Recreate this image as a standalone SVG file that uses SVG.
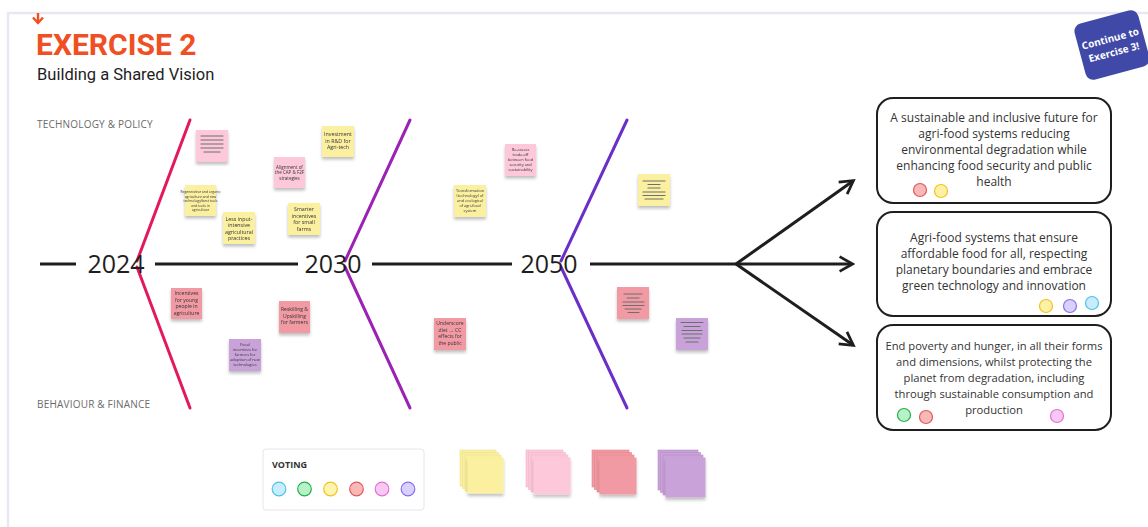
<svg xmlns="http://www.w3.org/2000/svg" width="1148" height="527" viewBox="0 0 1148 527">
<style>
.frame{fill:none;stroke:#ece6f0;stroke-width:2.5}
.title{font-family:Roboto,"Liberation Sans",sans-serif;font-weight:700;font-size:30px;fill:#f04e23}
.sub{font-family:Roboto,"Liberation Sans",sans-serif;font-size:16.5px;fill:#1e1e1e}
.cat{font-family:"Open Sans","Liberation Sans",sans-serif;font-size:10px;fill:#6b6b6b;letter-spacing:0.2px}
.year{font-family:"Open Sans","Liberation Sans",sans-serif;font-size:25px;fill:#1e1e1e;text-anchor:middle}
.spine{stroke:#1e1e1e;stroke-width:3;fill:none}
.bone{stroke-width:3;fill:none;stroke-linecap:round}
.arr{stroke:#1e1e1e;stroke-width:3;fill:none;marker-end:url(#chev)}
.box{fill:#fff;stroke:#1e1e1e;stroke-width:2}
.btxt{font-family:"Open Sans","Liberation Sans",sans-serif;font-size:12px;fill:#333;text-anchor:middle}
.btxt.sm{font-size:11.2px}
.st{font-family:"Open Sans","Liberation Sans",sans-serif;fill:#333;text-anchor:middle}
.yel{fill:#fbf0a0}
.pnk{fill:#fcc8da}
.red{fill:#f19aa3}
.pur{fill:#c8a2d8}
.ln{stroke:#6e6e6e;stroke-width:1.2;stroke-linecap:round}
.vt{stroke-width:1.2}
</style>
<defs>
<filter id="sh" x="-20%" y="-20%" width="140%" height="150%">
<feDropShadow dx="0" dy="2.5" stdDeviation="1.5" flood-color="#000" flood-opacity="0.25"/>
</filter>
<marker id="chev" viewBox="0 0 16 16" refX="13" refY="8" markerWidth="18" markerHeight="18" markerUnits="userSpaceOnUse" orient="auto">
<path d="M2,1.5 L13.5,8 L2,14.5" fill="none" stroke="#1e1e1e" stroke-width="2.4"/>
</marker>
</defs>
<rect width="1148" height="527" fill="#fff"/>
<path class="frame" d="M8,527 V13 H1148"/>

<g id="header">
<path d="M38,13 V23 M33,17.5 L38,23 L43,17.5" stroke="#f04e23" stroke-width="2.4" fill="none"/>
<text class="title" x="36" y="55">EXERCISE 2</text>
<text class="sub" x="37" y="80">Building a Shared Vision</text>
</g>

<g id="continue" transform="translate(1112,45) rotate(-15)">
<rect x="-33" y="-29" width="66" height="58" rx="8" fill="#4049a8"/>
<text x="0" y="-3" font-family="'Open Sans','Liberation Sans',sans-serif" font-weight="700" font-size="10" fill="#fff" text-anchor="middle">Continue to</text>
<text x="0" y="11" font-family="'Open Sans','Liberation Sans',sans-serif" font-weight="700" font-size="10" fill="#fff" text-anchor="middle">Exercise 3!</text>
</g>

<g id="labels">
<text class="cat" x="37" y="128">TECHNOLOGY &amp; POLICY</text>
<text class="cat" x="37" y="408">BEHAVIOUR &amp; FINANCE</text>
</g>

<g id="connectors">
<line class="spine" x1="40" y1="264" x2="76" y2="264"/>
<line class="spine" x1="155" y1="264" x2="298" y2="264"/>
<line class="spine" x1="372" y1="264" x2="512" y2="264"/>
<line class="spine" x1="590" y1="264" x2="736" y2="264"/>
<line class="bone" stroke="#e3195f" x1="190" y1="120" x2="137" y2="261"/>
<line class="bone" stroke="#e3195f" x1="137" y1="267" x2="190" y2="408"/>
<line class="bone" stroke="#9c21b5" x1="410" y1="120" x2="345" y2="261"/>
<line class="bone" stroke="#9c21b5" x1="345" y1="267" x2="410" y2="408"/>
<line class="bone" stroke="#6c2ec8" x1="627" y1="120" x2="561" y2="261"/>
<line class="bone" stroke="#6c2ec8" x1="561" y1="267" x2="627" y2="408"/>
<line class="arr" x1="736" y1="264" x2="853" y2="181"/>
<line class="arr" x1="736" y1="264" x2="852" y2="264"/>
<line class="arr" x1="736" y1="264" x2="853" y2="345"/>
</g>

<g id="years">
<text class="year" x="116" y="273">2024</text>
<text class="year" x="333" y="273">2030</text>
<text class="year" x="549" y="273">2050</text>
</g>

<g id="s1" filter="url(#sh)">
<rect class="pnk" x="196" y="130" width="32" height="32"/>
<path class="ln" d="M201,136 H223 M201,140 H223 M201,144 H223 M201,148 H223 M204,152 H220"/>
</g>
<g id="s2" filter="url(#sh)">
<rect class="yel" x="185" y="185" width="31" height="31"/>
<text class="st" font-size="3.4"><tspan x="200.5" y="193">Regenerative and organic</tspan><tspan x="200.5" y="197.5">agriculture and new</tspan><tspan x="200.5" y="202">technology/best tools</tspan><tspan x="200.5" y="206.5">and tools in</tspan><tspan x="200.5" y="211">agriculture</tspan></text>
</g>
<g id="s3" filter="url(#sh)">
<rect class="yel" x="223" y="212" width="32" height="32"/>
<text class="st" font-size="5.3"><tspan x="239" y="220.5">Less input-</tspan><tspan x="239" y="227">intensive</tspan><tspan x="239" y="233.5">agricultural</tspan><tspan x="239" y="240">practices</tspan></text>
</g>
<g id="s4" filter="url(#sh)">
<rect class="pnk" x="274" y="157" width="31" height="31"/>
<text class="st" font-size="4.5"><tspan x="289.5" y="168.5">Alignment of</tspan><tspan x="289.5" y="174">the CAP &amp; F2F</tspan><tspan x="289.5" y="179.5">strategies</tspan></text>
</g>
<g id="s5" filter="url(#sh)">
<rect class="yel" x="322" y="126" width="32" height="31"/>
<text class="st" font-size="5.3"><tspan x="338" y="136">Investment</tspan><tspan x="338" y="142.5">in R&amp;D for</tspan><tspan x="338" y="149">Agri-tech</tspan></text>
</g>
<g id="s6" filter="url(#sh)">
<rect class="yel" x="288" y="203" width="32" height="32"/>
<text class="st" font-size="5.3"><tspan x="304" y="211">Smarter</tspan><tspan x="304" y="217.5">incentives</tspan><tspan x="304" y="224">for small</tspan><tspan x="304" y="230.5">farms</tspan></text>
</g>
<g id="s7" filter="url(#sh)">
<rect class="red" x="171" y="288" width="31" height="31"/>
<text class="st" font-size="5.1"><tspan x="186.5" y="295">Incentives</tspan><tspan x="186.5" y="301.5">for young</tspan><tspan x="186.5" y="308">people in</tspan><tspan x="186.5" y="314.5">agriculture</tspan></text>
</g>
<g id="s8" filter="url(#sh)">
<rect class="red" x="279" y="301" width="31" height="32"/>
<text class="st" font-size="5.1"><tspan x="294.5" y="311">Reskilling &amp;</tspan><tspan x="294.5" y="317.5">Upskilling</tspan><tspan x="294.5" y="324">for farmers</tspan></text>
</g>
<g id="s9" filter="url(#sh)">
<rect class="pur" x="229" y="339" width="32" height="32"/>
<text class="st" font-size="3.9"><tspan x="245" y="346">Fiscal</tspan><tspan x="245" y="351">incentives for</tspan><tspan x="245" y="356">farmers for</tspan><tspan x="245" y="361">adoption of new</tspan><tspan x="245" y="366">technologies</tspan></text>
</g>
<g id="s10" filter="url(#sh)">
<rect class="yel" x="454" y="185" width="32" height="32"/>
<text class="st" font-size="3.9"><tspan x="470" y="192">Transformation</tspan><tspan x="470" y="197">(technology) of</tspan><tspan x="470" y="202">and ecological</tspan><tspan x="470" y="207">of agri-food</tspan><tspan x="470" y="212">system</tspan></text>
</g>
<g id="s11" filter="url(#sh)">
<rect class="pnk" x="505" y="144" width="31" height="32"/>
<text class="st" font-size="3.9"><tspan x="520.5" y="151">Re-assess</tspan><tspan x="520.5" y="156">trade-off</tspan><tspan x="520.5" y="161">between food</tspan><tspan x="520.5" y="166">security and</tspan><tspan x="520.5" y="171">sustainability</tspan></text>
</g>
<g id="s12" filter="url(#sh)">
<rect class="red" x="434" y="318" width="32" height="32"/>
<text class="st" font-size="5"><tspan x="450" y="325">Underscore</tspan><tspan x="450" y="331.5">diet → CC</tspan><tspan x="450" y="338">effects for</tspan><tspan x="450" y="344.5">the public</tspan></text>
</g>
<g id="s13" filter="url(#sh)">
<rect class="red" x="617" y="287" width="32" height="32"/>
<path class="ln" d="M624,294 H642 M627,298 H639 M623,302 H644 M623,305.5 H644 M625,309 H641 M628,312.5 H639"/>
</g>
<g id="s14" filter="url(#sh)">
<rect class="pur" x="676" y="318" width="32" height="32"/>
<path class="ln" d="M681,322.5 H703 M684,326.5 H700 M682,330.5 H702 M682,334 H702 M684,338 H700 M686,342 H698"/>
</g>
<g id="s15" filter="url(#sh)">
<rect class="yel" x="638" y="174" width="32" height="32"/>
<path class="ln" d="M643,181 H665 M648,184.5 H660 M648,188 H660 M643,192 H665 M643,195.5 H665 M645,199 H663"/>
</g>

<g id="box1">
<rect class="box" x="877" y="98" width="234" height="105" rx="16"/>
<text class="btxt"><tspan x="994" y="122">A sustainable and inclusive future for</tspan><tspan x="994" y="138">agri-food systems reducing</tspan><tspan x="994" y="154">environmental degradation while</tspan><tspan x="994" y="170">enhancing food security and public</tspan><tspan x="994" y="186">health</tspan></text>
<circle class="vt" cx="920" cy="190" r="6.5" fill="#f9b8b8" stroke="#e05a5a"/>
<circle class="vt" cx="941" cy="191" r="6.5" fill="#fff0a8" stroke="#f0c419"/>
</g>
<g id="box2">
<rect class="box" x="877" y="212" width="234" height="104" rx="16"/>
<text class="btxt"><tspan x="994" y="242">Agri-food systems that ensure</tspan><tspan x="994" y="258">affordable food for all, respecting</tspan><tspan x="994" y="274">planetary boundaries and embrace</tspan><tspan x="994" y="290">green technology and innovation</tspan></text>
<circle class="vt" cx="1046" cy="306" r="6.5" fill="#fff0a8" stroke="#f0c419"/>
<circle class="vt" cx="1070" cy="306" r="6.5" fill="#d8d0ff" stroke="#8a70e8"/>
<circle class="vt" cx="1092" cy="303" r="6.5" fill="#c8ecfb" stroke="#4dc3ea"/>
</g>
<g id="box3">
<rect class="box" x="877" y="325" width="234" height="105" rx="16"/>
<text class="btxt sm"><tspan x="994" y="350">End poverty and hunger, in all their forms</tspan><tspan x="994" y="366">and dimensions, whilst protecting the</tspan><tspan x="994" y="382">planet from degradation, including</tspan><tspan x="994" y="398">through sustainable consumption and</tspan><tspan x="994" y="414">production</tspan></text>
<circle class="vt" cx="904" cy="415" r="6.5" fill="#b8f0c8" stroke="#22b14c"/>
<circle class="vt" cx="926" cy="417" r="6.5" fill="#f9b8b8" stroke="#e05a5a"/>
<circle class="vt" cx="1057" cy="416" r="6.5" fill="#f8c8f0" stroke="#e070d8"/>
</g>

<g id="voting">
<rect x="263" y="449" width="161" height="61" rx="3" fill="#fff" stroke="#e6e6ea" stroke-width="1"/>
<text x="272" y="468" font-family="'Open Sans','Liberation Sans',sans-serif" font-weight="700" font-size="9" fill="#333">VOTING</text>
<circle class="vt" cx="279" cy="489" r="6.8" fill="#c8ecfb" stroke="#4dc3ea"/>
<circle class="vt" cx="304.5" cy="489" r="6.8" fill="#b8f0c8" stroke="#22b14c"/>
<circle class="vt" cx="330.5" cy="489" r="6.8" fill="#fff3b0" stroke="#f0c419"/>
<circle class="vt" cx="356.5" cy="489" r="6.8" fill="#f9b8b8" stroke="#e05a5a"/>
<circle class="vt" cx="382" cy="489" r="6.8" fill="#f8c8f0" stroke="#e070d8"/>
<circle class="vt" cx="408" cy="489" r="6.8" fill="#d8d0ff" stroke="#8a70e8"/>
</g>

<g id="stack-yellow">
<rect class="yel" x="460" y="450" width="36" height="36" stroke="#ece08a" stroke-width="0.6"/>
<rect class="yel" x="462.5" y="452.5" width="36" height="36" stroke="#ece08a" stroke-width="0.6"/>
<rect class="yel" x="465" y="455" width="36" height="36" stroke="#ece08a" stroke-width="0.6"/>
<rect class="yel" x="467.5" y="457.5" width="36" height="36" filter="url(#sh)"/>
</g>
<g id="stack-pink">
<rect class="pnk" x="526" y="450" width="37" height="37" stroke="#f2b4ca" stroke-width="0.6"/>
<rect class="pnk" x="528.5" y="452.5" width="37" height="37" stroke="#f2b4ca" stroke-width="0.6"/>
<rect class="pnk" x="531" y="455" width="37" height="37" stroke="#f2b4ca" stroke-width="0.6"/>
<rect class="pnk" x="533.5" y="457.5" width="37" height="37" filter="url(#sh)"/>
</g>
<g id="stack-red">
<rect class="red" x="592" y="450" width="37" height="37" stroke="#e4848e" stroke-width="0.6"/>
<rect class="red" x="594.5" y="452.5" width="37" height="37" stroke="#e4848e" stroke-width="0.6"/>
<rect class="red" x="597" y="455" width="37" height="37" stroke="#e4848e" stroke-width="0.6"/>
<rect class="red" x="599.5" y="457.5" width="37" height="37" filter="url(#sh)"/>
</g>
<g id="stack-purple">
<rect class="pur" x="658" y="450" width="40" height="40" stroke="#b48ec6" stroke-width="0.6"/>
<rect class="pur" x="660.5" y="452.5" width="40" height="40" stroke="#b48ec6" stroke-width="0.6"/>
<rect class="pur" x="663" y="455" width="40" height="40" stroke="#b48ec6" stroke-width="0.6"/>
<rect class="pur" x="665.5" y="457.5" width="40" height="40" filter="url(#sh)"/>
</g>
</svg>
